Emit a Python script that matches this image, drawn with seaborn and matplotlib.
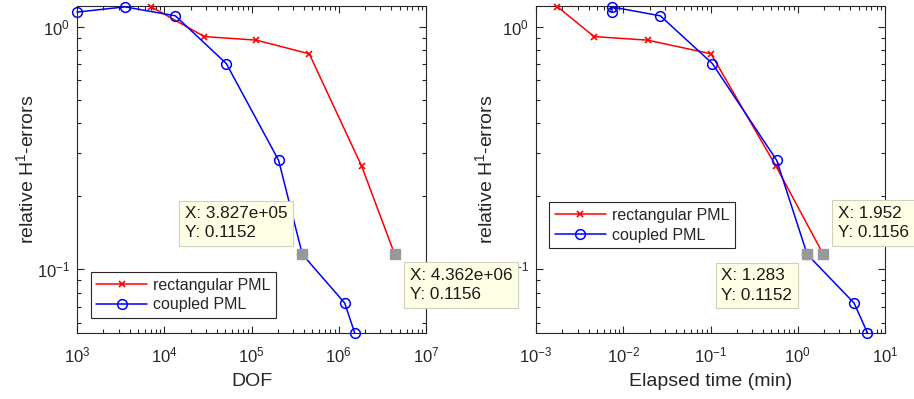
import numpy as np
import pandas as pd
import matplotlib
matplotlib.use("Agg")
import matplotlib.pyplot as plt
import seaborn as sns
from matplotlib.ticker import LogLocator, NullFormatter
from matplotlib.lines import Line2D

# ---- data ----
dof_rect = [7000, 28800, 113500, 459000, 1.83e6, 4.362e6]
time_rect = [0.00175, 0.00463, 0.019, 0.1014, 0.563, 1.952]
err_rect = [1.209, 0.909, 0.879, 0.772, 0.266, 0.1156]

dof_cpl = [1000, 3550, 13400, 51400, 204600, 3.827e5, 1.17e6, 1.52e6]
time_cpl = [0.00748, 0.00736, 0.0266, 0.105, 0.574, 1.283, 4.42, 6.28]
err_cpl = [1.147, 1.205, 1.107, 0.704, 0.281, 0.1152, 0.0726, 0.0548]

series_labels = ["rectangular PML", "coupled PML"]
tip_rect_idx = 5
tip_cpl_idx = 5

sns.set_theme(style="ticks")
plt.rcParams["font.family"] = ["Liberation Sans", "DejaVu Sans"]
plt.rcParams["mathtext.fontset"] = "custom"
plt.rcParams["mathtext.rm"] = "Liberation Sans"
plt.rcParams["mathtext.it"] = "Liberation Sans:italic"
plt.rcParams["mathtext.bf"] = "Liberation Sans:bold"

W, H = 914, 399
fig = plt.figure(figsize=(W / 100, H / 100), dpi=100)

def px_axes(x0, x1, ytop, ybot):
    return fig.add_axes([x0 / W, 1 - ybot / H, (x1 - x0) / W, (ybot - ytop) / H])

ax1 = px_axes(77, 426, 6, 332.7)
ax2 = px_axes(536, 885, 6, 332.7)
ax1.set_zorder(2)
ax2.set_zorder(1)

axis_col = "#262626"
fs_tick = 12
fs_lab = 14
fs_tip = 12.3

df_rect_l = pd.DataFrame({"x": dof_rect, "y": err_rect})
df_cpl_l = pd.DataFrame({"x": dof_cpl, "y": err_cpl})
df_rect_r = pd.DataFrame({"x": time_rect, "y": err_rect})
df_cpl_r = pd.DataFrame({"x": time_cpl, "y": err_cpl})

def draw(ax, dfr, dfc):
    sns.lineplot(data=dfr, x="x", y="y", ax=ax, sort=False, estimator=None,
                 color="red", marker="x", markersize=5, markeredgewidth=1.2,
                 markeredgecolor="red",
                 linewidth=1.1, clip_on=False, zorder=3)
    sns.lineplot(data=dfc, x="x", y="y", ax=ax, sort=False, estimator=None,
                 color="blue", marker="o", markersize=7, markerfacecolor="none",
                 markeredgecolor="blue", markeredgewidth=1.1,
                 linewidth=1.1, clip_on=False, zorder=3)

draw(ax1, df_rect_l, df_cpl_l)
draw(ax2, df_rect_r, df_cpl_r)

for ax, xl in [(ax1, (1e3, 1e7)), (ax2, (1e-3, 1e1))]:
    ax.set_xscale("log")
    ax.set_yscale("log")
    ax.set_xlim(*xl)
    ax.set_ylim(0.0548, 1.215)
    ax.xaxis.set_major_locator(LogLocator(base=10, numticks=20))
    ax.xaxis.set_minor_locator(LogLocator(base=10, subs=np.arange(2, 10), numticks=40))
    ax.xaxis.set_minor_formatter(NullFormatter())
    ax.yaxis.set_major_locator(LogLocator(base=10, numticks=20))
    ax.yaxis.set_minor_locator(LogLocator(base=10, subs=np.arange(2, 10), numticks=40))
    ax.yaxis.set_minor_formatter(NullFormatter())
    ax.tick_params(which="both", direction="in", top=True, right=True,
                   colors=axis_col, labelsize=fs_tick, width=0.8)
    ax.tick_params(which="major", length=5)
    ax.tick_params(which="minor", length=3)
    ax.tick_params(axis="x", which="both", pad=9.5)
    ax.tick_params(axis="y", which="both", pad=5)
    for s in ax.spines.values():
        s.set_color(axis_col)
        s.set_linewidth(0.8)
    ax.set_ylabel(r"relative H$^{1}$-errors", fontsize=fs_lab, color=axis_col, labelpad=0)
    ax.set_facecolor("white")

ax1.set_xlabel("DOF", fontsize=fs_lab, color=axis_col, labelpad=5)
ax2.set_xlabel("Elapsed time (min)", fontsize=fs_lab, color=axis_col, labelpad=5)

# legends
handles = [
    Line2D([], [], color="red", marker="x", markersize=5, markeredgewidth=1.2, linewidth=1.1),
    Line2D([], [], color="blue", marker="o", markersize=7, markerfacecolor="none",
           markeredgewidth=1.1, linewidth=1.1),
]
for ax, anchor in [(ax1, (0.039, 0.045)), (ax2, (0.038, 0.258))]:
    leg = ax.legend(handles, series_labels, loc="lower left", bbox_to_anchor=anchor,
                    borderaxespad=0, fontsize=11.5, handlelength=3.2,
                    handletextpad=0.35, borderpad=0.35, labelspacing=0.3,
                    frameon=True, fancybox=False, framealpha=1, edgecolor="#262626")
    leg.get_frame().set_linewidth(0.8)

# data tips
def tip(ax, x, y, ha, va, dx, dy, xfmt):
    ax.plot([x], [y], marker="s", markersize=7, color="#999999",
            markeredgecolor="#999999", linestyle="none", zorder=6, clip_on=False)
    ax.annotate(f"X: {xfmt}\nY: {y:.4f}", xy=(x, y), xycoords="data",
                xytext=(dx, dy), textcoords="offset pixels", ha=ha, va=va,
                multialignment="left",
                fontsize=fs_tip, color="#1a1a1a", linespacing=1.35, zorder=10,
                annotation_clip=False,
                bbox=dict(boxstyle="square,pad=0.33", fc="#ffffe6", ec="#d0d0c0", lw=0.8))

def sci(v):
    return f"{v:.3e}"

tip(ax1, dof_cpl[tip_cpl_idx], err_cpl[tip_cpl_idx], "right", "bottom", -15, 14, sci(dof_cpl[tip_cpl_idx]))
tip(ax1, dof_rect[tip_rect_idx], err_rect[tip_rect_idx], "left", "top", 15, -14, sci(dof_rect[tip_rect_idx]))
tip(ax2, time_cpl[tip_cpl_idx], err_cpl[tip_cpl_idx], "right", "top", -15, -14, f"{time_cpl[tip_cpl_idx]:.3f}")
tip(ax2, time_rect[tip_rect_idx], err_rect[tip_rect_idx], "left", "bottom", 15, 14, f"{time_rect[tip_rect_idx]:.3f}")

fig.savefig("out.png", dpi=100, facecolor="white")
